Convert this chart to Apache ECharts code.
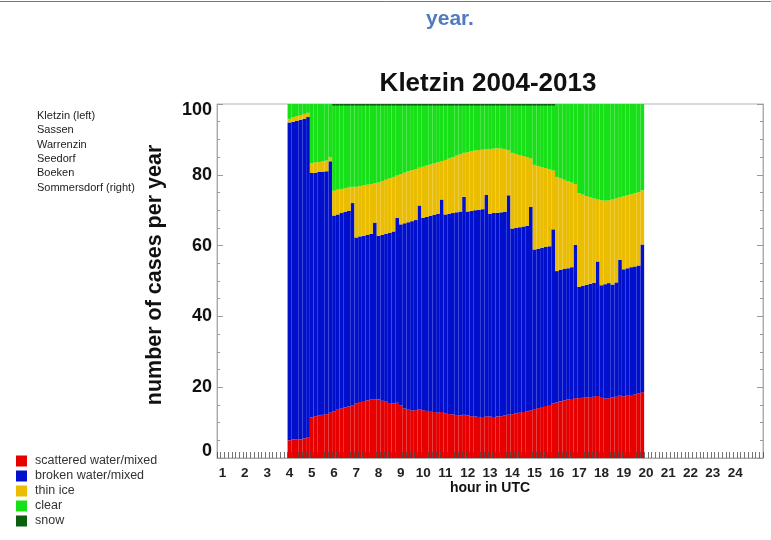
<!DOCTYPE html>
<html>
<head>
<meta charset="utf-8">
<script src="https://cdn.jsdelivr.net/npm/echarts@6/dist/echarts.min.js"></script>
<style>
  html, body { margin: 0; padding: 0; background: #ffffff; }
  #chart { width: 771px; height: 540px; }
</style>
</head>
<body>
<div id="chart"></div>
<script>
// Hour labels along the x axis (UTC)
const hourLabels = ['1','2','3','4','5','6','7','8','9','10','11','12',
                    '13','14','15','16','17','18','19','20','21','22','23','24'];
// Hours that carry data; each hour holds one bar per station, left to right
const dataHours = [4,5,6,7,8,9,10,11,12,13,14,15,16,17,18,19];
const stations = ['Kletzin (left)', 'Sassen', 'Warrenzin', 'Seedorf', 'Boeken', 'Sommersdorf (right)'];
const classNames = ['scattered water/mixed', 'broken water/mixed', 'thin ice', 'clear', 'snow'];

// Cases per year, one row per hour, one value per station
const scattered = [
  [5.0, 5.2, 5.3, 5.2, 5.5, 5.7],
  [11.5, 11.8, 12.0, 12.2, 12.4, 12.8],
  [13.2, 13.6, 14.0, 14.3, 14.6, 14.9],
  [15.4, 15.8, 16.1, 16.3, 16.5, 16.6],
  [16.5, 16.2, 15.9, 15.5, 15.4, 15.6],
  [14.8, 14.0, 13.6, 13.4, 13.5, 13.7],
  [13.5, 13.3, 13.1, 13.0, 12.8, 13.0],
  [12.6, 12.4, 12.3, 12.1, 12.0, 12.2],
  [12.0, 11.8, 11.7, 11.6, 11.6, 11.8],
  [11.7, 11.6, 11.7, 11.8, 12.0, 12.2],
  [12.4, 12.6, 12.8, 13.0, 13.2, 13.5],
  [13.8, 14.1, 14.4, 14.7, 15.0, 15.4],
  [15.7, 16.0, 16.3, 16.5, 16.7, 16.9],
  [16.9, 17.0, 17.1, 17.2, 17.3, 17.5],
  [17.0, 16.8, 16.9, 17.1, 17.3, 17.6],
  [17.4, 17.6, 17.8, 18.0, 18.3, 18.6]
];
const broken = [
  [89.8, 89.8, 89.9, 90.3, 90.3, 90.6],
  [69.0, 68.8, 68.8, 68.7, 68.6, 71.0],
  [55.3, 55.2, 55.2, 55.2, 55.2, 57.1],
  [46.9, 46.8, 46.7, 46.7, 46.8, 49.9],
  [46.3, 46.8, 47.4, 48.1, 48.6, 52.2],
  [51.2, 52.3, 53.0, 53.5, 53.7, 57.6],
  [54.3, 54.8, 55.3, 55.7, 56.2, 60.0],
  [56.2, 56.6, 56.9, 57.3, 57.6, 61.6],
  [57.6, 58.0, 58.3, 58.5, 58.7, 62.5],
  [57.3, 57.6, 57.6, 57.6, 57.5, 62.0],
  [52.4, 52.4, 52.4, 52.4, 52.4, 57.5],
  [45.1, 45.0, 45.0, 44.9, 44.8, 49.2],
  [37.1, 37.1, 37.1, 37.1, 37.2, 43.3],
  [31.4, 31.6, 31.8, 32.0, 32.2, 38.0],
  [31.8, 32.3, 32.5, 31.9, 32.3, 38.4],
  [35.9, 36.0, 36.1, 36.1, 36.1, 41.7]
];
const thinIce = [
  [1.0, 1.3, 1.4, 1.4, 1.4, 1.2],
  [2.8, 2.9, 2.8, 2.9, 3.0, 1.2],
  [7.0, 7.0, 6.8, 6.7, 6.6, 4.6],
  [14.3, 14.2, 14.2, 14.2, 14.1, 11.1],
  [15.0, 15.2, 15.3, 15.4, 15.4, 12.0],
  [14.2, 14.3, 14.4, 14.4, 14.4, 10.7],
  [14.5, 14.5, 14.5, 14.5, 14.5, 10.8],
  [15.4, 15.6, 15.8, 16.0, 16.2, 12.4],
  [16.8, 16.9, 16.9, 16.9, 16.8, 12.9],
  [18.3, 18.2, 18.2, 18.0, 17.7, 12.8],
  [21.4, 20.9, 20.4, 19.9, 19.4, 13.6],
  [23.9, 23.4, 22.8, 22.3, 21.8, 16.6],
  [26.6, 25.9, 25.2, 24.6, 23.9, 17.2],
  [26.5, 25.8, 25.1, 24.4, 23.8, 17.5],
  [24.0, 23.6, 23.4, 24.0, 23.7, 17.6],
  [20.6, 20.6, 20.6, 20.7, 20.7, 15.3]
];
const clear = [
  [4.2, 3.7, 3.4, 3.1, 2.8, 2.5],
  [16.7, 16.5, 16.4, 16.2, 16.0, 15.0],
  [24.0, 23.7, 23.5, 23.3, 23.1, 22.9],
  [22.9, 22.7, 22.5, 22.3, 22.1, 21.9],
  [21.7, 21.3, 20.9, 20.5, 20.1, 19.7],
  [19.3, 18.9, 18.5, 18.2, 17.9, 17.5],
  [17.2, 16.9, 16.6, 16.3, 16.0, 15.7],
  [15.3, 14.9, 14.5, 14.1, 13.7, 13.3],
  [13.1, 12.8, 12.6, 12.5, 12.4, 12.3],
  [12.2, 12.1, 12.0, 12.1, 12.3, 12.5],
  [13.3, 13.6, 13.9, 14.2, 14.5, 14.9],
  [16.7, 17.0, 17.3, 17.6, 17.9, 18.3],
  [20.6, 21.0, 21.4, 21.8, 22.2, 22.6],
  [25.2, 25.6, 26.0, 26.4, 26.7, 27.0],
  [27.2, 27.3, 27.2, 27.0, 26.7, 26.4],
  [26.1, 25.8, 25.5, 25.2, 24.9, 24.4]
];
const snow = [
  [0, 0, 0, 0, 0, 0],
  [0, 0, 0, 0, 0, 0],
  [0.5, 0.5, 0.5, 0.5, 0.5, 0.5],
  [0.5, 0.5, 0.5, 0.5, 0.5, 0.5],
  [0.5, 0.5, 0.5, 0.5, 0.5, 0.5],
  [0.5, 0.5, 0.5, 0.5, 0.5, 0.5],
  [0.5, 0.5, 0.5, 0.5, 0.5, 0.5],
  [0.5, 0.5, 0.5, 0.5, 0.5, 0.5],
  [0.5, 0.5, 0.5, 0.5, 0.5, 0.5],
  [0.5, 0.5, 0.5, 0.5, 0.5, 0.5],
  [0.5, 0.5, 0.5, 0.5, 0.5, 0.5],
  [0.5, 0.5, 0.5, 0.5, 0.5, 0.5],
  [0, 0, 0, 0, 0, 0],
  [0, 0, 0, 0, 0, 0],
  [0, 0, 0, 0, 0, 0],
  [0, 0, 0, 0, 0, 0]
];
const classColors = ['#e60000', '#0010cc', '#ebbd00', '#18e018', '#0b5e0b'];

const FONT = 'Liberation Sans, Arial, sans-serif';
const perHour = stations.length;

// The x axis is split into station slots (six per hour). The frame runs
// from slot 5 (just before hour 1) to slot 151 (past hour 24).
const FIRST_SLOT = 5, LAST_SLOT = 151;
const slots = [];
for (let k = FIRST_SLOT; k <= LAST_SLOT; k++) slots.push(String(k));

// Place an hour x station table onto the slot axis; empty slots stay blank.
function toSlots(table) {
  const out = slots.map(() => '-');
  table.forEach((row, i) => {
    row.forEach((v, s) => {
      out[dataHours[i] * perHour + s - FIRST_SLOT] = v;
    });
  });
  return out;
}

const tables = [scattered, broken, thinIce, clear, snow];
const series = tables.map((t, i) => ({
  name: classNames[i],
  type: 'bar',
  stack: 'cases',
  barCategoryGap: '0%',
  data: toSlots(t),
  itemStyle: { color: classColors[i] },
  emphasis: { disabled: true },
  animation: false
}));

const chart = echarts.init(document.getElementById('chart'), null, { renderer: 'canvas' });

const yLabelRich = {
  top: { fontSize: 18, fontWeight: 'bold', color: '#111', fontFamily: FONT, padding: [13, 0, 0, 0] },
  bot: { fontSize: 18, fontWeight: 'bold', color: '#111', fontFamily: FONT, padding: [0, 0, 13, 0] }
};

const isHourSlot = idx => (idx + FIRST_SLOT) % perHour === 0;

chart.setOption({
  animation: false,
  textStyle: { fontFamily: FONT },
  grid: {
    left: 217, right: 8, top: 104, bottom: 82,
    show: true, borderColor: '#b5b5b5', borderWidth: 1, backgroundColor: 'transparent'
  },
  legend: {
    orient: 'vertical', left: 16, top: 454, padding: 0,
    itemWidth: 11, itemHeight: 11, itemGap: 1,
    icon: 'rect',
    selectedMode: false,
    data: classNames,
    textStyle: { fontSize: 12.5, color: '#333', lineHeight: 14, padding: [0, 0, 0, 3] }
  },
  xAxis: [{
    type: 'category', data: slots, boundaryGap: true,
    z: 5,
    axisLine: { show: true, onZero: false, lineStyle: { color: '#aaa' } },
    splitLine: { show: false },
    axisTick: {
      show: true, inside: true, length: 6, interval: 0,
      lineStyle: { color: 'rgba(70,70,70,0.75)', width: 1 }
    },
    axisLabel: {
      interval: (idx) => isHourSlot(idx),
      formatter: (val) => hourLabels[Number(val) / perHour - 1],
      fontSize: 13.5, fontWeight: 'bold', color: '#222', margin: 8
    }
  }],
  yAxis: [{
    type: 'value', min: 0, max: 100, interval: 20, position: 'left',
    z: 5,
    axisLine: { show: true, lineStyle: { color: '#aaa' } },
    splitLine: { show: false },
    axisTick: { show: true, inside: true, length: 6, lineStyle: { color: '#999' } },
    minorTick: { show: true, splitNumber: 4, length: 3, lineStyle: { color: '#999' } },
    axisLabel: {
      fontSize: 18, fontWeight: 'bold', color: '#111', margin: 5,
      formatter: v => v === 100 ? '{top|100}' : (v === 0 ? '{bot|0}' : String(v)),
      rich: yLabelRich
    }
  }, {
    type: 'value', min: 0, max: 100, interval: 20, position: 'right',
    z: 5,
    axisLine: { show: true, lineStyle: { color: '#aaa' } },
    splitLine: { show: false },
    axisTick: { show: true, inside: true, length: 6, lineStyle: { color: '#999' } },
    minorTick: { show: true, splitNumber: 4, length: 3, lineStyle: { color: '#999' } },
    axisLabel: { show: false }
  }],
  series: series,
  graphic: [
    { type: 'line', shape: { x1: 0, y1: 1.5, x2: 771, y2: 1.5 }, style: { stroke: '#777', lineWidth: 1 } },
    { type: 'text', x: 450, y: 19, style: { text: 'year.', font: 'bold 21px ' + FONT, fill: '#4f7cc0', align: 'center', verticalAlign: 'middle' } },
    { type: 'text', x: 488, y: 84, style: { text: 'Kletzin 2004-2013', font: 'bold 26px ' + FONT, fill: '#111', align: 'center', verticalAlign: 'middle' } },
    { type: 'text', x: 155, y: 275, rotation: Math.PI / 2, style: { text: 'number of cases per year', font: 'bold 21.5px ' + FONT, fill: '#111', align: 'center', verticalAlign: 'middle' } },
    { type: 'text', x: 490, y: 488, style: { text: 'hour in UTC', font: 'bold 14px ' + FONT, fill: '#111', align: 'center', verticalAlign: 'middle' } }
  ].concat(stations.map((name, i) => ({
    type: 'text', x: 37, y: 116 + i * 14.3,
    style: { text: name, font: '11px ' + FONT, fill: '#222', align: 'left', verticalAlign: 'middle' }
  })))
});
</script>
</body>
</html>
